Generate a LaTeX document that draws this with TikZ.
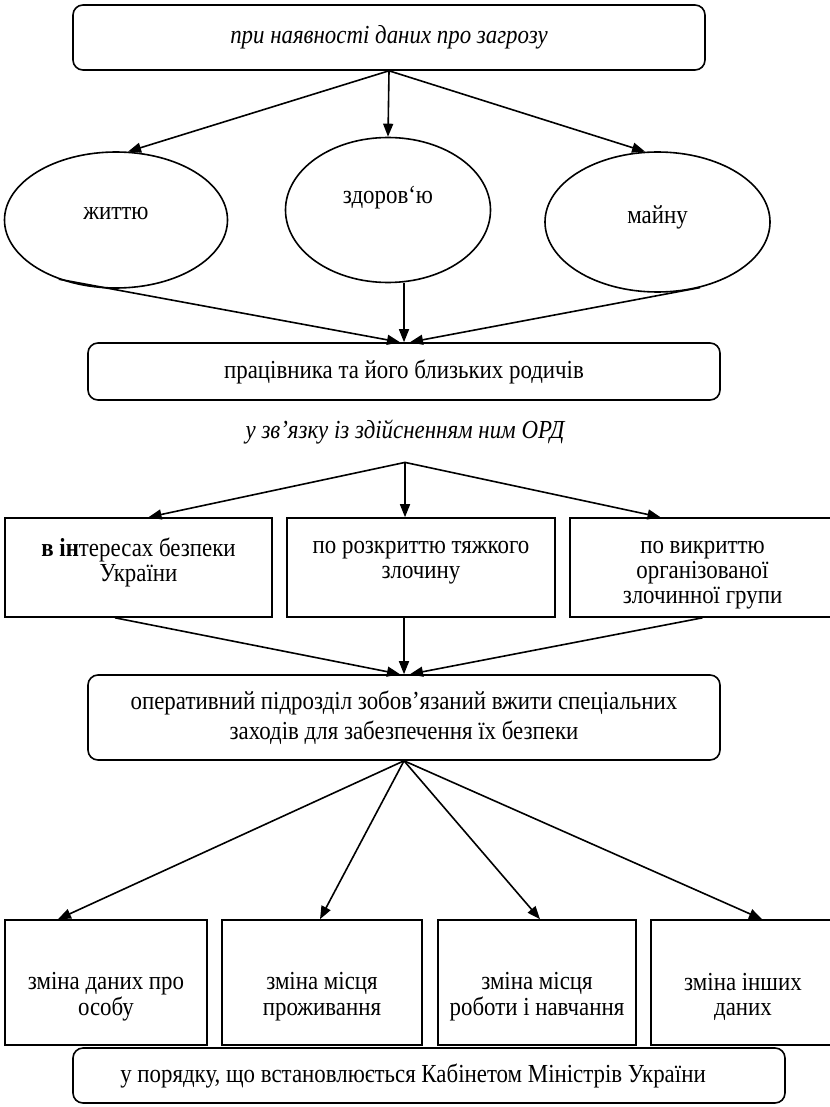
\documentclass[tikz,border=0pt]{standalone}
\usepackage{fontspec}
\setmainfont{Liberation Serif}[FakeStretch=0.88]
\usetikzlibrary{arrows.meta,shapes.geometric}
\begin{document}
\begin{tikzpicture}[x=0.5pt,y=-0.5pt,
  every node/.style={font=\fontsize{13}{12.5}\selectfont},
  rbox/.style={draw, rounded corners=5pt, line width=0.8pt, align=center, inner sep=0pt},
  sbox/.style={draw, line width=0.8pt, align=center, inner sep=0pt},
  ell/.style={draw, ellipse, line width=0.8pt, inner sep=0pt},
  arr/.style={line width=0.8pt, -{Triangle[length=6.5pt,width=5pt]}}]
\useasboundingbox (0,0) rectangle (829,1107);

% top box
\node[rbox, minimum width=316pt, minimum height=32.5pt] (top) at (389,37.5) {\itshape при наявності даних про загрозу};

% ellipses
\node[ell, minimum width=111.5pt, minimum height=68pt, text height=8pt, text depth=8.2pt] (e1) at (116,220) {життю};
\node[ell, minimum width=102.5pt, minimum height=72.5pt, text height=8pt, text depth=14.8pt] (e2) at (388,210) {здоров‘ю};
\node[ell, minimum width=112.5pt, minimum height=70pt, text height=8pt, text depth=6.8pt] (e3) at (657.5,222) {майну};

% box
\node[rbox, minimum width=316pt, minimum height=28.5pt] (pr) at (404,371.5) {працівника та його близьких родичів};

% italic caption
\node[minimum height=30pt, inner sep=0pt] (zv) at (405,432) {\itshape у зв’язку із здійсненням ним ОРД};

% row 2
\node[sbox, minimum width=133.5pt, minimum height=49.5pt] (b1) at (138.5,567.5) {\textbf{в ін}тересах безпеки\\України\\[-5pt]\mbox{}};
\node[sbox, minimum width=134pt, minimum height=49.5pt] (b2) at (421,567.5) {по розкриттю тяжкого\\злочину\\[-5pt]\mbox{}};
\node[sbox, minimum width=132.5pt, minimum height=49.5pt] (b3) at (702.5,567.5) {\mbox{}\\[1.5pt]по викриттю\\організованої\\злочинної групи};

% operative box
\node[rbox, minimum width=316pt, minimum height=42.5pt, font=\fontsize{13}{15}\selectfont] (op) at (404,717.5) {оперативний підрозділ зобов’язаний вжити спеціальних\\заходів для забезпечення їх безпеки};

% row 3
\node[sbox, minimum width=101pt, minimum height=62.5pt, font=\fontsize{13}{13}\selectfont] (c1) at (106,982.5) {\mbox{}\\[10pt]зміна даних про\\особу};
\node[sbox, minimum width=100pt, minimum height=62.5pt, font=\fontsize{13}{13}\selectfont] (c2) at (322,982.5) {\mbox{}\\[10pt]зміна місця\\проживання};
\node[sbox, minimum width=99pt, minimum height=62.5pt, font=\fontsize{13}{13}\selectfont] (c3) at (537,982.5) {\mbox{}\\[10pt]зміна місця\\роботи і навчання};
\node[sbox, minimum width=92pt, minimum height=62.5pt, font=\fontsize{13}{13}\selectfont] (c4) at (743,982.5) {\mbox{}\\[10pt]зміна інших\\даних};

% bottom box
\node[rbox, minimum width=356pt, minimum height=27.5pt] (bt) at (429,1075.5) {у порядку, що встановлюється Кабінетом Міністрів України\hspace*{16pt}};

% arrows
\draw[arr] (top.south) -- (e1.80);
\draw[arr] (top.south) -- (e2.north);
\draw[arr] (top.south) -- (e3.100);
\draw[arr] (e1.226) -- ([xshift=-2pt]pr.north);
\draw[arr] (pr.north |- e2.south) -- (pr.north);
\draw[arr] (e3.-57) -- ([xshift=3pt]pr.north);

\draw[arr] (zv.south) -- ([xshift=5pt]b1.north);
\draw[arr] (zv.south) -- (zv.south |- b2.north);
\draw[arr] (zv.south) -- ([xshift=-21pt]b3.north);
\draw[arr] ([xshift=-11.75pt]b1.south) -- ([xshift=-2pt]op.north);
\draw[arr] (op.north |- b2.south) -- (op.north);
\draw[arr] (b3.south) -- ([xshift=3pt]op.north);

\draw[arr] (op.south) -- ([xshift=-24pt]c1.north);
\draw[arr] (op.south) -- ([xshift=-1pt]c2.north);
\draw[arr] (op.south) -- ([xshift=1.5pt]c3.north);
\draw[arr] (op.south) -- ([xshift=9.5pt]c4.north);
\end{tikzpicture}
\end{document}
